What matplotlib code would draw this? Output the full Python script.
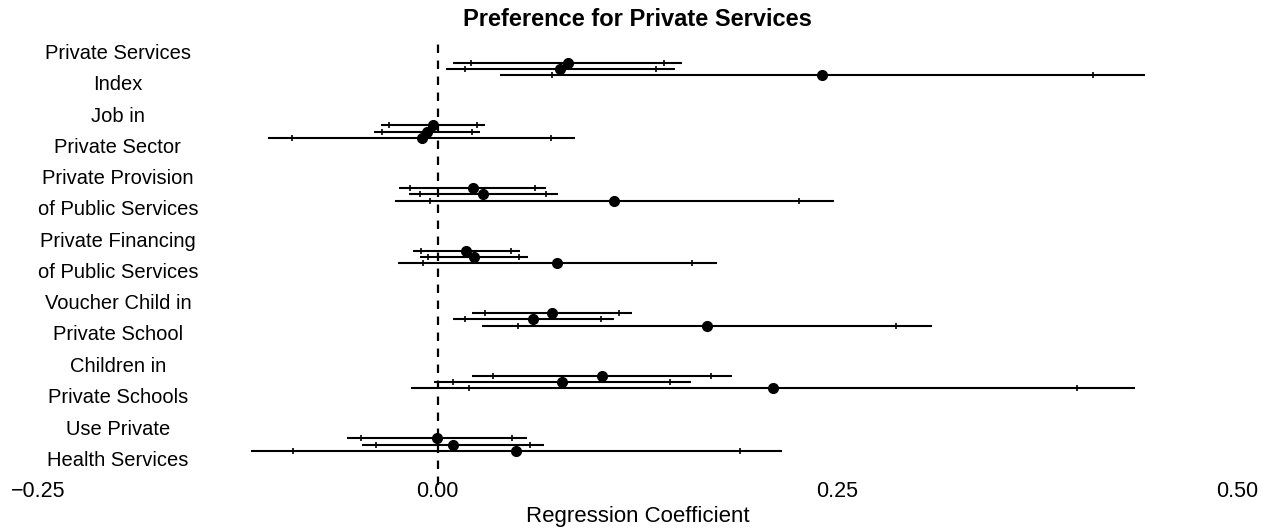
import matplotlib
matplotlib.use('Agg')
import matplotlib.pyplot as plt
import numpy as np

plt.rcParams['font.family'] = ['Liberation Sans', 'DejaVu Sans']

# outcomes, top to bottom
outcomes = ['Private Services\nIndex', 'Job in\nPrivate Sector', 'Private Provision\nof Public Services',
            'Private Financing\nof Public Services', 'Voucher Child in\nPrivate School',
            'Children in\nPrivate Schools', 'Use Private\nHealth Services']

# rows = model 1, 2, 3 (top to bottom inside each outcome)
est = np.array([
    [0.0814, -0.0030, 0.0220, 0.0176, 0.0714, 0.1028, -0.0005],
    [0.0768, -0.0066, 0.0284, 0.0226, 0.0595, 0.0776, 0.0095],
    [0.2407, -0.0101, 0.1103, 0.0749, 0.1686, 0.2097, 0.0491],
])
lo90 = np.array([
    [0.0209, -0.0303, -0.0170, -0.0105, 0.0297, 0.0347, -0.0480],
    [0.0168, -0.0347, -0.0111, -0.0059, 0.0170, 0.0099, -0.0387],
    [0.0714, -0.0909, -0.0051, -0.0093, 0.0501, 0.0199, -0.0905],
])
hi90 = np.array([
    [0.1416, 0.0247, 0.0607, 0.0459, 0.1134, 0.1707, 0.0468],
    [0.1368, 0.0216, 0.0678, 0.0511, 0.1020, 0.1453, 0.0576],
    [0.4099, 0.0707, 0.2259, 0.1589, 0.2870, 0.3997, 0.1891],
])
lo95 = np.array([
    [0.0097, -0.0353, -0.0239, -0.0157, 0.0217, 0.0216, -0.0570],
    [0.0053, -0.0397, -0.0182, -0.0111, 0.0093, -0.0026, -0.0474],
    [0.0393, -0.1059, -0.0270, -0.0251, 0.0278, -0.0164, -0.1170],
])
hi95 = np.array([
    [0.1530, 0.0297, 0.0680, 0.0513, 0.1214, 0.1838, 0.0557],
    [0.1482, 0.0266, 0.0753, 0.0564, 0.1101, 0.1582, 0.0666],
    [0.4422, 0.0859, 0.2480, 0.1749, 0.3095, 0.4362, 0.2155],
])
xticks = [-0.25, 0.0, 0.25, 0.50]
xticklabels = ['\u22120.25', '0.00', '0.25', '0.50']

fig = plt.figure(figsize=(12.73, 5.31), dpi=100)
ax = fig.add_axes([38 / 1273, 1 - 485 / 531, 1199 / 1273, 445 / 531])
ax.set_xlim(-0.25, 0.50)
ax.set_ylim(6.643, -0.463)
ax.axis('off')

# zero reference line
ax.axvline(0, color='black', lw=1.6, linestyle=(0, (3.8, 3.4)), zorder=1)

pos = np.arange(len(outcomes))
offsets = [-0.1, 0.0, 0.1]
for m in range(3):
    y = pos + offsets[m]
    ax.hlines(y, lo95[m], hi95[m], color='black', lw=1.5, zorder=2)
    ax.plot(lo90[m], y, '|', color='black', ms=5, mew=1.2, zorder=3)
    ax.plot(hi90[m], y, '|', color='black', ms=5, mew=1.2, zorder=3)
    ax.plot(est[m], y, 'o', color='black', ms=7, zorder=4)

# outcome labels
for i, lab in enumerate(outcomes):
    top, bottom = lab.split('\n')
    ax.text(-0.2, i - 0.2475, top, ha='center', va='center', fontsize=14.5)
    ax.text(-0.2, i + 0.2475, bottom, ha='center', va='center', fontsize=14.5)

# x tick labels
for t, tl in zip(xticks, xticklabels):
    ax.text(t, 6.74, tl, ha='center', va='center', fontsize=15.5)

mid = sum(ax.get_xlim()) / 2
ax.text(mid, 7.14, 'Regression Coefficient', ha='center', va='center', fontsize=16)
ax.text(mid, -0.79, 'Preference for Private Services', ha='center', va='center',
        fontsize=17, fontweight='bold')

plt.savefig('out.png', dpi=100)
plt.close()
